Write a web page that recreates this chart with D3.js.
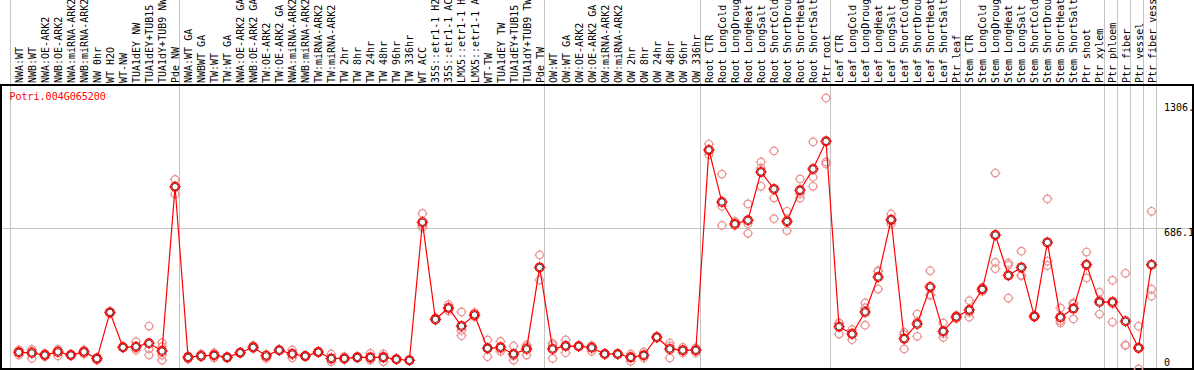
<!DOCTYPE html>
<html>
<head>
<meta charset="utf-8">
<script src="https://d3js.org/d3.v7.min.js"></script>
<style>
  body { margin: 0; background: white; overflow: hidden; }
  text { font-family: "DejaVu Sans Mono", monospace; font-size: 10px; }
</style>
</head>
<body>
<div id="chart"></div>
<script>
var geneName = "Potri.004G065200"

var samples = [
    "NWA:WT", "NWB:WT", "NWA:OE-ARK2", "NWB:OE-ARK2", "NWA:miRNA-ARK2", "NWB:miRNA-ARK2",
    "NW 0hr", "WT H2O", "WT-NW", "TUA1dEY NW", "TUA1dEY+TUB15", "TUA1dY+TUB9 NW", "Pde NW",
    "NWA:WT GA", "NWBWT GA", "TW:WT", "TW:WT GA", "NWA:OE-ARK2 GA", "NWB:OE-ARK2 GA",
    "TW:OE-ARK2", "TW:OE-ARK2 GA", "NWA:miRNA-ARK2 ", "NWB:miRNA-ARK2 ", "TW:miRNA-ARK2",
    "TW:miRNA-ARK2 ", "TW 2hr", "TW 8hr", "TW 24hr", "TW 48hr", "TW 96hr", "TW 336hr",
    "WT ACC", "35S::etr1-1 H2O", "35S::etr1-1 ACC", "LMX5::etr1-1 H2O", "LMX5::etr1-1 ACC",
    "WT-TW", "TUA1dEY TW", "TUA1dEY+TUB15 ", "TUA1dY+TUB9 TW", "Pde TW",
    "OW:WT", "OW:WT GA", "OW:OE-ARK2", "OW:OE-ARK2 GA", "OW:miRNA-ARK2", "OW:miRNA-ARK2 ",
    "OW 2hr", "OW 8hr", "OW 24hr", "OW 48hr", "OW 96hr", "OW 336hr",
    "Root CTR", "Root LongCold", "Root LongDrought", "Root LongHeat", "Root LongSalt",
    "Root ShortCold", "Root ShortDrought", "Root ShortHeat", "Root ShortSalt", "Ptr root",
    "Leaf CTR", "Leaf LongCold", "Leaf LongDrought", "Leaf LongHeat", "Leaf LongSalt",
    "Leaf ShortCold", "Leaf ShortDrought", "Leaf ShortHeat", "Leaf ShortSalt", "Ptr leaf",
    "Stem CTR", "Stem LongCold", "Stem LongDrought", "Stem LongHeat", "Stem LongSalt",
    "Stem ShortCold", "Stem ShortDrought", "Stem ShortHeat", "Stem ShortSalt", "Ptr shoot",
    "Ptr xylem", "Ptr phloem", "Ptr fiber", "Ptr vessel", "Ptr fiber vessel"
]

// samples per group, a grey line is drawn between groups
var groupSizes = [13, 28, 12, 10, 10, 11, 1, 1, 1, 1]

var means = [
    96, 93, 83, 98, 83, 98, 66, 286, 120, 123, 139, 102, 884,
    72, 79, 82, 72, 94, 120, 79, 106, 88, 78, 97, 67, 67, 72, 72, 72, 63, 58,
    715, 253, 307, 221, 274, 115, 120, 88, 112, 500,
    112, 126, 125, 118, 88, 88, 72, 82, 168, 112, 106, 106,
    1059, 811, 707, 724, 954, 873, 719, 867, 968, 1100,
    218, 183, 288, 454, 727, 161, 231, 407, 196, 264,
    297, 396, 654, 462, 500, 267, 619, 263, 304, 513, 335,
    335, 244, 117, 513
]

var replicates = [
    [107, 83, 98], [102, 67, 110], [91, 75, 83], [110, 79, 105], [87, 80, 82], [107, 87, 100],
    [72, 59, 67], [286, 290, 282], [120, 118, 122], [147, 106, 116], [221, 83, 112],
    [142, 123, 83, 59], [919, 849, 884],
    [63, 75, 78], [88, 75, 74], [94, 70, 82], [72, 70, 74], [94, 96, 92], [129, 115, 116],
    [67, 85, 85], [106, 104, 108], [107, 70, 93], [78, 80, 76], [97, 99, 95], [88, 51, 62],
    [75, 63, 63], [75, 70, 71], [91, 59, 66], [88, 51, 77], [63, 65, 61], [58, 57, 59],
    [757, 689, 699], [261, 249, 249], [323, 293, 305], [288, 175, 200], [285, 266, 271],
    [155, 75, 115], [148, 101, 111], [126, 59, 79], [131, 83, 122], [559, 440, 501],
    [139, 67, 130], [155, 94, 129], [125, 128, 122], [101, 125, 128], [88, 90, 86], [88, 86, 90],
    [88, 53, 75], [98, 69, 79], [168, 172, 164], [140, 69, 127], [120, 93, 105], [117, 93, 108],
    [1087, 1036, 1054], [944, 791, 700], [719, 700, 702], [802, 662, 708], [1002, 973, 886],
    [1054, 830, 732], [767, 675, 715], [921, 830, 850], [1097, 929, 886], [1306, 1002, 992],
    [236, 183, 235], [204, 156, 189], [331, 225, 308], [481, 397, 484], [754, 720, 707],
    [191, 112, 180], [278, 172, 243], [484, 370, 367], [236, 167, 185], [256, 264, 272],
    [342, 263, 286], [405, 386, 397], [949, 524, 494], [521, 354, 511], [577, 462, 461],
    [267, 270, 264], [826, 529, 509], [307, 236, 246], [326, 255, 331], [573, 450, 516],
    [382, 278, 345],
    [439, 326, 240], [472, 129, 131], [220, 17, 114], [767, 397, 363]
]

var yTicks = [1306, 686.1, 0]
var yTickLabels = ["1306.", "686.1", "0"]
var gridValues = [686.1]

var width = 1194
var height = 370
var plotTop = 85
var plotBottom = 369

var svg = d3.select("#chart")
    .append("svg")
    .attr("width", width)
    .attr("height", height)

var x = d3.scaleBand()
    .domain(samples)
    .range([10.5, 10.5 + samples.length * 13.02])

var y = d3.scaleLinear()
    .domain([0, 1306])
    .range([372.5, 98])

function px(d) { return x(d) + x.bandwidth() / 2 + 1.8 }

// group separators
var bounds = [0]
groupSizes.forEach(function (n) { bounds.push(bounds[bounds.length - 1] + n) })
function sepX(k) { return Math.floor(k < samples.length ? x(samples[k]) : x.range()[1]) + 0.5 }
svg.selectAll("line.sep")
    .data(bounds)
    .enter().append("line")
    .attr("class", "sep")
    .attr("x1", sepX)
    .attr("x2", sepX)
    .attr("y1", 0)
    .attr("y2", plotBottom)
    .attr("stroke", "#c4c4c4")
    .attr("stroke-width", 1)

svg.selectAll("line.grid")
    .data(gridValues)
    .enter().append("line")
    .attr("class", "grid")
    .attr("x1", 1)
    .attr("x2", width)
    .attr("y1", function (d) { return Math.floor(y(d)) + 0.5 })
    .attr("y2", function (d) { return Math.floor(y(d)) + 0.5 })
    .attr("stroke", "#c4c4c4")
    .attr("stroke-width", 1)

// frame of the plot
svg.append("rect")
    .attr("x", 1)
    .attr("y", plotTop)
    .attr("width", width - 2)
    .attr("height", plotBottom - plotTop)
    .attr("fill", "none")
    .attr("stroke", "black")
    .attr("stroke-width", 2)

// sample names, written upwards (long ones run off the top like in the original)
svg.selectAll("text.sample")
    .data(samples)
    .enter().append("text")
    .attr("class", "sample")
    .attr("transform", function (d) { return "translate(" + (px(d) + 0.5) + ",83) rotate(-90)" })
    .attr("dominant-baseline", "central")
    .text(function (d) { return d.trim() })

svg.append("text")
    .attr("x", 9.5)
    .attr("y", 100)
    .attr("fill", "red")
    .text(geneName)

svg.selectAll("text.ytick")
    .data(yTicks)
    .enter().append("text")
    .attr("class", "ytick")
    .attr("x", 1164)
    .attr("y", function (d) { return Math.max(plotTop + 26, Math.min(plotBottom - 3, y(d) + 8)) })
    .text(function (d, i) { return yTickLabels[i] })

function marker(g, r, color, width) {
    g.append("circle")
        .attr("r", r)
        .attr("fill", "none")
        .attr("stroke", color)
        .attr("stroke-width", width)
    g.append("path")
        .attr("d", "M0," + (-r - 1.5) + "V" + (-r + 0.5) + "M0," + (r - 0.5) + "V" + (r + 1.5) +
            "M" + (-r - 1.5) + ",0H" + (-r + 0.5) + "M" + (r - 0.5) + ",0H" + (r + 1.5))
        .attr("stroke", color)
        .attr("stroke-width", 1)
}

var reps = []
replicates.forEach(function (vals, i) {
    vals.forEach(function (v) { reps.push({ s: samples[i], v: v }) })
})

svg.selectAll("g.rep")
    .data(reps)
    .enter().append("g")
    .attr("class", "rep")
    .attr("transform", function (d) { return "translate(" + px(d.s) + "," + y(d.v) + ")" })
    .each(function () { marker(d3.select(this), 3.8, "#ec9494", 1.2) })

var line = d3.line()
    .x(function (d, i) { return px(samples[i]) })
    .y(function (d) { return y(d) })

svg.append("path")
    .datum(means)
    .attr("d", line)
    .attr("fill", "none")
    .attr("stroke", "red")
    .attr("stroke-width", 1.2)

var m = svg.selectAll("g.mean")
    .data(means)
    .enter().append("g")
    .attr("class", "mean")
    .attr("transform", function (d, i) { return "translate(" + px(samples[i]) + "," + y(d) + ")" })
m.append("circle")
    .attr("r", 3.2)
    .attr("fill", "white")
    .attr("stroke", "#300")
    .attr("stroke-width", 0.8)
m.each(function () { marker(d3.select(this), 4.3, "red", 1.4) })
</script>
</body>
</html>
